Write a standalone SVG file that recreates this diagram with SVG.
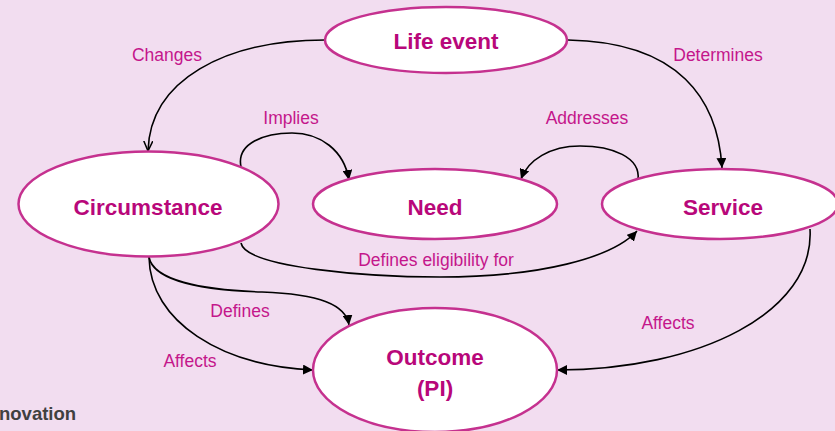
<svg xmlns="http://www.w3.org/2000/svg" width="835" height="431" viewBox="0 0 835 431">
<style>
.bg{fill:#F2DDF0}
.node ellipse{fill:#FFFFFF;stroke:#C5318F;stroke-width:2.5}
.nt{font-family:"Liberation Sans",Arial,sans-serif;font-weight:bold;font-size:22.5px;fill:#B8077A;text-anchor:middle}
.lbl{font-family:"Liberation Sans",Arial,sans-serif;font-size:17.5px;fill:#C4168B;text-anchor:middle}
.edge{fill:none;stroke:#000000;stroke-width:1.6}
.foot{font-family:"Liberation Sans",Arial,sans-serif;font-weight:bold;font-size:18.5px;fill:#404040}
</style>
<defs>
<marker id="tri" viewBox="0 0 10 10" refX="10" refY="5" markerWidth="10" markerHeight="10" markerUnits="userSpaceOnUse" orient="auto">
<path d="M0,0 L10,5 L0,10 z" fill="#000"/>
</marker>
<marker id="vee" viewBox="0 0 10 10" refX="10" refY="5" markerWidth="10" markerHeight="10" markerUnits="userSpaceOnUse" orient="auto">
<path d="M0,0.5 L10,5 L0,9.5" fill="none" stroke="#000" stroke-width="1.5"/>
</marker>
</defs>
<rect class="bg" x="0" y="0" width="835" height="431"/>

<g id="connectors">
<path class="edge" d="M 325 40 C 225 40, 150 80, 148 151" marker-end="url(#vee)"/>
<path class="edge" d="M 568 40 C 680 42, 718 100, 722 168" marker-end="url(#tri)"/>
<path class="edge" d="M 241 167 C 236 143, 265 133, 292 133 C 320 133, 344 150, 349 180" marker-end="url(#tri)"/>
<path class="edge" d="M 638 180 C 641 157, 612 146, 580 146 C 550 146, 528 160, 521 179" marker-end="url(#tri)"/>
<path class="edge" d="M 241 243 C 246 268, 370 277, 440 277 C 540 277, 612 258, 637 231" marker-end="url(#tri)"/>
<path class="edge" d="M 149 257 C 153 280, 200 290, 262 292 C 320 294, 346 305, 349 325" marker-end="url(#tri)"/>
<path class="edge" d="M 149 257 C 150 322, 222 366, 313 370" marker-end="url(#tri)"/>
<path class="edge" d="M 810 229 C 815 312, 700 370, 557 370" marker-end="url(#tri)"/>
</g>

<g id="labels">
<text class="lbl" x="167" y="61">Changes</text>
<text class="lbl" x="718" y="61">Determines</text>
<text class="lbl" x="291" y="124">Implies</text>
<text class="lbl" x="587" y="124">Addresses</text>
<text class="lbl" x="436" y="266">Defines eligibility for</text>
<text class="lbl" x="240" y="317">Defines</text>
<text class="lbl" x="190" y="367">Affects</text>
<text class="lbl" x="668" y="329">Affects</text>
</g>

<g id="node-life-event" class="node">
<ellipse cx="446" cy="40" rx="121" ry="33"/>
<text class="nt" x="446" y="49">Life event</text>
</g>
<g id="node-circumstance" class="node">
<ellipse cx="148.5" cy="204" rx="130" ry="52.5"/>
<text class="nt" x="148" y="215">Circumstance</text>
</g>
<g id="node-need" class="node">
<ellipse cx="435" cy="204" rx="122" ry="35"/>
<text class="nt" x="435" y="215">Need</text>
</g>
<g id="node-service" class="node">
<ellipse cx="720" cy="204" rx="118" ry="35"/>
<text class="nt" x="723" y="215">Service</text>
</g>
<g id="node-outcome" class="node">
<ellipse cx="435" cy="370" rx="122" ry="62"/>
<text class="nt" x="435" y="365">Outcome</text>
<text class="nt" x="435" y="396">(PI)</text>
</g>

<text class="foot" x="-1" y="420">novation</text>
</svg>
